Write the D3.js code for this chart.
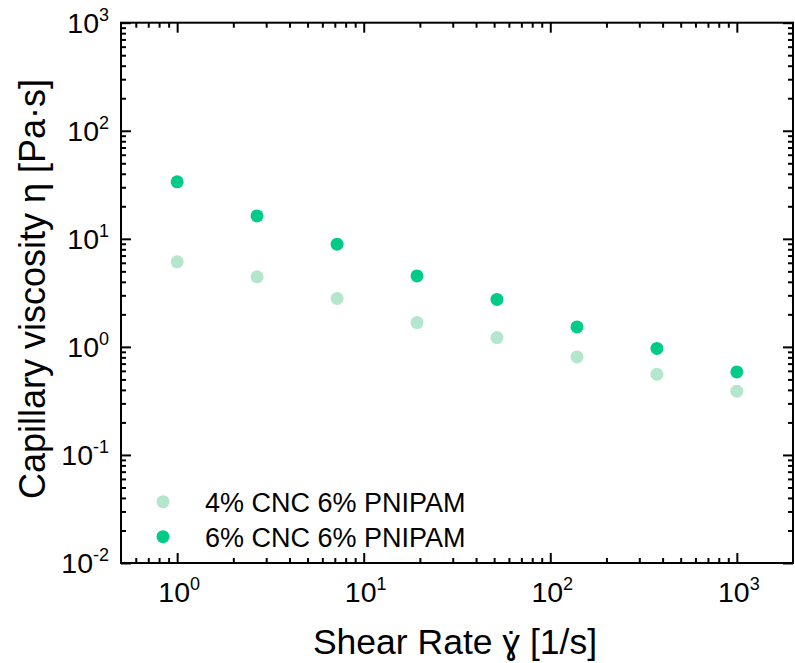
<!DOCTYPE html>
<html>
<head>
<meta charset="utf-8">
<script src="https://cdn.jsdelivr.net/npm/d3@7"></script>
<style>
  body { margin: 0; background: #fff; }
  text { font-family: "Liberation Sans", Arial, sans-serif; fill: #000; }
</style>
</head>
<body>
<div id="chart"></div>
<script>
"use strict";

// shear rates (1/s) and the two viscosity series (Pa·s)
var shearRate = [1, 2.68, 7.2, 19.3, 51.8, 139, 373, 1000];
var visc4CNC = [6.12, 4.45, 2.81, 1.68, 1.22, 0.807, 0.558, 0.389];
var visc6CNC = [33.7, 16.3, 8.93, 4.54, 2.75, 1.53, 0.967, 0.587];
var seriesNames = ["4% CNC 6% PNIPAM", "6% CNC 6% PNIPAM"];
var seriesColors = ["#b3e6cc", "#00cc88"];
var xMajor = [1, 10, 100, 1000];
var yMajor = [0.01, 0.1, 1, 10, 100, 1000];

function init() {
    draw();
}
window.onload = init;

function draw() {
    var W = 795, H = 663;
    var margin = {top: 22.7, right: 2, bottom: 100, left: 121};
    var width = W - margin.left - margin.right,
        height = H - margin.top - margin.bottom;

    var svg = d3.select("#chart").append("svg")
        .attr("width", W)
        .attr("height", H);
    var g = svg.append("g")
        .attr("transform", `translate(${margin.left},${margin.top})`);

    var x = d3.scaleLog().domain([0.5, 2000]).range([0, width]);
    var y = d3.scaleLog().domain([0.01, 1000]).range([height, 0]);

    // minor ticks 2..9 of each decade inside the domain
    function minors(scale) {
        var d = scale.domain(), out = [];
        for (var e = -3; e <= 4; e++) {
            for (var m = 2; m <= 9; m++) {
                var v = m * Math.pow(10, e);
                if (v > d[0] && v < d[1]) out.push(v);
            }
        }
        return out;
    }
    var xMinor = minors(x), yMinor = minors(y);

    function styleAxis(sel) {
        sel.select(".domain").remove();
        sel.selectAll("line").attr("stroke", "#000").attr("stroke-width", 2);
        sel.selectAll("text").remove();
    }

    // ticks pointing inward on all four sides
    g.append("g").attr("transform", `translate(0,${height})`)
        .call(d3.axisBottom(x).tickValues(xMajor).tickSize(-10)).call(styleAxis);
    g.append("g").attr("transform", `translate(0,${height})`)
        .call(d3.axisBottom(x).tickValues(xMinor).tickSize(-5)).call(styleAxis);
    g.append("g")
        .call(d3.axisTop(x).tickValues(xMajor).tickSize(-10)).call(styleAxis);
    g.append("g")
        .call(d3.axisTop(x).tickValues(xMinor).tickSize(-5)).call(styleAxis);
    g.append("g")
        .call(d3.axisLeft(y).tickValues(yMajor).tickSize(-10)).call(styleAxis);
    g.append("g")
        .call(d3.axisLeft(y).tickValues(yMinor).tickSize(-5)).call(styleAxis);
    g.append("g").attr("transform", `translate(${width},0)`)
        .call(d3.axisRight(y).tickValues(yMajor).tickSize(-10)).call(styleAxis);
    g.append("g").attr("transform", `translate(${width},0)`)
        .call(d3.axisRight(y).tickValues(yMinor).tickSize(-5)).call(styleAxis);

    // frame
    g.append("rect")
        .attr("width", width).attr("height", height)
        .attr("fill", "none").attr("stroke", "#000").attr("stroke-width", 2);

    // power-of-ten labels
    function powLabel(sel, v) {
        var e = Math.round(Math.log10(v));
        sel.append("tspan").text("10");
        sel.append("tspan").attr("dy", -12).attr("font-size", 18).text(e);
    }
    g.append("g").selectAll("text")
        .data(xMajor).join("text")
        .attr("x", d => x(d) + 2)
        .attr("y", height + 39)
        .attr("text-anchor", "middle")
        .attr("font-size", 28.5)
        .each(function(d) { powLabel(d3.select(this), d); });
    g.append("g").selectAll("text")
        .data(yMajor).join("text")
        .attr("x", -12)
        .attr("y", d => y(d) + 10.5)
        .attr("text-anchor", "end")
        .attr("font-size", 28.5)
        .each(function(d) { powLabel(d3.select(this), d); });

    // axis titles
    svg.append("text")
        .attr("x", 455).attr("y", 654)
        .attr("text-anchor", "middle")
        .attr("font-size", 35.5)
        .text("Shear Rate \u0263\u0307 [1/s]");
    svg.append("text")
        .attr("transform", "translate(45,289) rotate(-90)")
        .attr("text-anchor", "middle")
        .attr("font-size", 36)
        .text("Capillary viscosity \u03b7 [Pa\u00b7s]");

    // points
    var series = [visc4CNC, visc6CNC];
    series.forEach(function(vals, i) {
        g.append("g").selectAll("circle")
            .data(vals).join("circle")
            .attr("cx", (d, j) => x(shearRate[j]))
            .attr("cy", d => y(d))
            .attr("r", 6.5)
            .attr("fill", seriesColors[i]);
    });

    // legend
    var leg = svg.append("g").selectAll("g")
        .data(seriesNames).join("g")
        .attr("transform", (d, i) => `translate(163,${501.7 + i * 35})`);
    leg.append("circle").attr("r", 6.5).attr("fill", (d, i) => seriesColors[i]);
    leg.append("text").attr("x", 42).attr("y", 10)
        .attr("font-size", 27).text(d => d);
}
</script>
</body>
</html>
